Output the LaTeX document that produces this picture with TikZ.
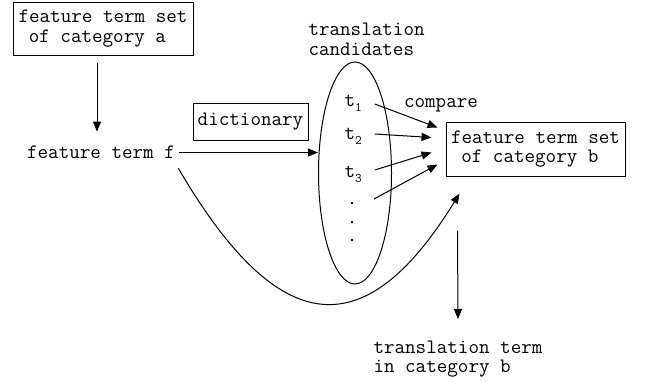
\documentclass[tikz,border=0pt]{standalone}
\usepackage{fontspec}
\usetikzlibrary{arrows.meta,shapes.geometric}

\newcommand\subsz{\fontsize{13}{13}\selectfont}

\tikzset{
    arr/.style={-{Triangle[length=10pt,width=8pt]}},
    box/.style={draw, inner sep=0pt, align=left},
    cand/.style={inner sep=0pt, anchor=base west},
    dotmark/.style={circle, fill, inner sep=0pt, minimum size=2.8pt},
}

\begin{document}
\begin{tikzpicture}[x=1pt,y=-1pt,line width=1pt,font=\ttfamily\fontsize{20.5}{19.5}\selectfont]

    \useasboundingbox (0,0) rectangle (647,381);

    \node (boxa) at (103,28.5) [box, minimum width=180pt, minimum height=53pt]
        {feature term set\\\hspace*{0.5em}of category a};
    \node (termf) at (101,152.5) [inner sep=0pt] {feature term f};
    \node (dict) at (250.5,121.5) [box, minimum width=115pt, minimum height=37pt] {dictionary};

    \node (ell) at (355,173) [draw, ellipse, inner sep=0pt, minimum width=73pt, minimum height=222pt] {};
    \node (cands) at (308,22) [anchor=north west, inner sep=0pt, align=left,
        font=\ttfamily\fontsize{20.5}{20.5}\selectfont] {translation\\candidates};

    \foreach \i/\yy in {1/106,2/139,3/177}
        \node (t\i) at (344,\yy) [cand] {t\raisebox{-5pt}{\subsz\i}};
    \foreach \i/\yy in {1/203,2/222,3/240}
        \node (d\i) at (352,\yy) [dotmark] {};

    \node (bb) at (535.5,149) [box, minimum width=179pt, minimum height=54pt]
        {feature term set\\\hspace*{0.5em}of category b};
    \node (cmp) at (441,105) [inner sep=0pt] {compare};
    \node (res) at (373,340) [anchor=north west, inner sep=0pt, align=left]
        {translation term\\in category b};

    \draw [arr] ([xshift=-6pt,yshift=-7pt]boxa.south) -- ([xshift=-4pt,yshift=14pt]termf.north);
    \draw [arr] ([xshift=4pt]termf.east) -- (termf.east -| ell.west);

    \foreach \i/\sy/\ex/\ey in {1/2/-8/-6, 2/5/-14/-16, 3/7/-14/-31}
        \draw [arr] ([xshift=12.5pt,yshift=\sy pt]t\i.base east) -- ([xshift=\ex pt,yshift=\ey pt]bb.north west);
    \draw [arr] ([xshift=22pt,yshift=4pt]d1.center) -- ([xshift=-8pt,yshift=-43pt]bb.north west);

    \draw [arr] ([xshift=3pt,yshift=-9pt]termf.south east) .. controls (281,344) and (367,344) .. ([xshift=14pt,yshift=-17pt]bb.south west);
    \draw [arr] ([xshift=12pt,yshift=-54pt]bb.south west) -- ([xshift=85pt,yshift=21pt]res.north west);

\end{tikzpicture}
\end{document}
